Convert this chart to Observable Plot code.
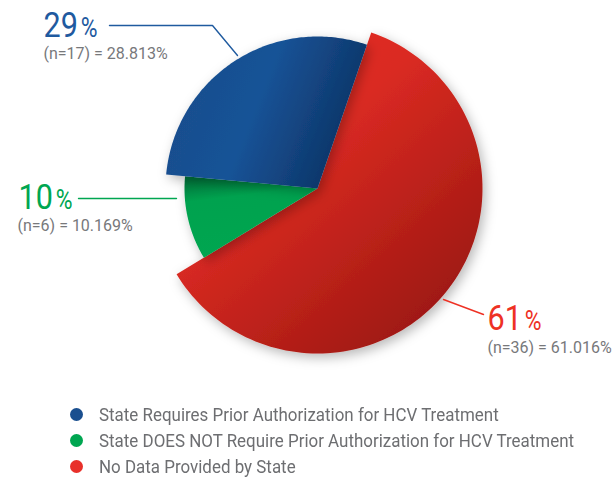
<!DOCTYPE html>
<html><head><meta charset="utf-8">
<script src="https://cdn.jsdelivr.net/npm/d3@7"></script>
<script src="https://cdn.jsdelivr.net/npm/@observablehq/plot@0.6"></script>
<style>
body{margin:0;background:#fff;}
#wrap{position:relative;width:614px;height:477px;overflow:hidden;}
.cond{font-family:Roboto,"Liberation Sans",sans-serif;}
.row{position:absolute;left:70px;height:26px;display:flex;align-items:center;white-space:nowrap;font-size:19px;color:#6d6e71;}
.dot{width:13px;height:13px;border-radius:50%;margin-right:16px;flex:none;}
.lt{display:inline-block;transform-origin:0 50%;}
</style></head>
<body>
<div id="wrap"></div>
<script>
// ---- data ----
const categories = [
  "State Requires Prior Authorization for HCV Treatment",
  "State DOES NOT Require Prior Authorization for HCV Treatment",
  "No Data Provided by State"
];
const counts = [17, 6, 36];
const percents = [28.813, 10.169, 61.016];
const roundedPct = ["29", "10", "61"];
const colors = ["#1a4f8f", "#00a651", "#e8302a"];
const labelColors = ["#1f5a9f", "#00a651", "#ee3124"];

// ---- layout ----
const W = 614, H = 395;
const cx = 317, cy = 188;
const radii = [152, 133, 165];          // per-category radius (design)
const order = [2, 1, 0];                 // clockwise drawing order from start angle
const startDeg = 19;
const FONT = 'Roboto,"Liberation Sans",sans-serif';
const numCondense = 0.85, legendTargetWidth = 400;

const total = d3.sum(counts);
let acc = startDeg * Math.PI / 180;
const slices = [];
for (const i of order) {
  const a0 = acc, a1 = acc + counts[i] / total * 2 * Math.PI;
  acc = a1;
  const pts = [{x: cx, y: cy}];
  const n = 120;
  for (let j = 0; j <= n; j++) {
    const a = a0 + (a1 - a0) * j / n;
    pts.push({x: cx + radii[i] * Math.sin(a), y: cy - radii[i] * Math.cos(a)});
  }
  pts.push({x: cx, y: cy});
  slices.push({i, pts});
}

// label layout (annotation positions)
const labelPos = [
  {nx: 43, ny: 36, sx: 43, sy: 58, leader: [[109, 25], [212, 25], [237, 55]]},
  {nx: 18, ny: 208, sx: 17, sy: 230, leader: [[78, 198], [176, 198]]},
  {nx: 487, ny: 329, sx: 487, sy: 352, leader: [[443, 299], [483, 314]]}
];

const bigNums = categories.map((c, i) => ({x: labelPos[i].nx, y: labelPos[i].ny, t: roundedPct[i], c: labelColors[i]}));
const subs = categories.map((c, i) => ({x: labelPos[i].sx, y: labelPos[i].sy, t: `(n=${counts[i]}) = ${percents[i].toFixed(3)}%`}));
const leaders = [];
labelPos.forEach((p, i) => p.leader.forEach(([x, y]) => leaders.push({k: i, x, y, c: labelColors[i]})));

const marks = [];
for (const s of slices) {
  marks.push(Plot.line(s.pts, {x: "x", y: "y", fill: `url(#grad${s.i})`, stroke: "none", curve: "linear"}));
}
marks.push(Plot.line(leaders, {x: "x", y: "y", z: "k", stroke: "c", strokeWidth: 1.4, curve: "linear"}));
marks.push(Plot.text(bigNums, {x: "x", y: "y", text: "t", fill: "c", fontSize: 36, textAnchor: "start", lineAnchor: "bottom", fontFamily: FONT}));
marks.push(Plot.text(subs, {x: "x", y: "y", text: "t", fill: "#77787b", fontSize: 16, textAnchor: "start", lineAnchor: "bottom", fontFamily: FONT}));

const svg = Plot.plot({
  width: W, height: H, margin: 0,
  x: {domain: [0, W], axis: null},
  y: {domain: [0, H], range: [0, H], axis: null},
  color: {type: "identity"},
  style: {background: "transparent", overflow: "visible"},
  marks
});

const sel = d3.select(svg);
const defs = sel.insert("defs", ":first-child");
function grad(id, x1, y1, x2, y2, stops) {
  const g = defs.append("linearGradient").attr("id", id).attr("x1", x1).attr("y1", y1).attr("x2", x2).attr("y2", y2);
  stops.forEach(([o, c]) => g.append("stop").attr("offset", o).attr("stop-color", c));
}
grad("grad0", 0, 0.3, 1, 0.6, [[0, "#1a4c8b"], [0.45, "#185397"], [1, "#0b3060"]]);
grad("grad1", 0.3, 0, 0.5, 1, [[0, "#00743a"], [0.25, "#00a24f"], [1, "#00a651"]]);
grad("grad2", 0.15, 0.05, 0.9, 0.95, [[0, "#e72e26"], [0.35, "#da2a22"], [1, "#961610"]]);
const f = defs.append("filter").attr("id", "shadow").attr("x", "-20%").attr("y", "-20%").attr("width", "150%").attr("height", "150%");
f.append("feDropShadow").attr("dx", 3).attr("dy", 4).attr("stdDeviation", 6).attr("flood-color", "#000").attr("flood-opacity", 0.28);
sel.selectAll("g").filter(function() { return (this.getAttribute("fill") || "").startsWith("url"); }).attr("filter", "url(#shadow)");

// big numbers: condensed face, smaller "%" sign as a tspan
const textGroups = sel.selectAll('g[aria-label="text"]').nodes();
d3.select(textGroups[0]).selectAll("text").each(function() {
  const tr = this.getAttribute("transform") || "";
  this.setAttribute("transform", tr + ` scale(${numCondense},1)`);
  d3.select(this).append("tspan").attr("font-size", 27).attr("dx", 3.5).text("%");
});

const wrap = document.getElementById("wrap");
svg.style.position = "absolute"; svg.style.left = "0"; svg.style.top = "0";
wrap.appendChild(svg);

const ctx = document.createElement("canvas").getContext("2d");
const legend = document.createElement("div");
legend.className = "cond";
const rowCenters = [414, 440, 466];
ctx.font = `19px ${FONT}`;
const legendScale = legendTargetWidth / ctx.measureText(categories[0]).width;
categories.forEach((c, i) => {
  const r = document.createElement("div");
  r.className = "row";
  r.style.top = (rowCenters[i] - 13) + "px";
  const d = document.createElement("span");
  d.className = "dot"; d.style.background = colors[i];
  const t = document.createElement("span");
  t.className = "lt";
  t.style.transform = `scaleX(${legendScale})`;
  t.textContent = c;
  r.appendChild(d); r.appendChild(t);
  legend.appendChild(r);
});
wrap.appendChild(legend);
</script>
</body></html>
